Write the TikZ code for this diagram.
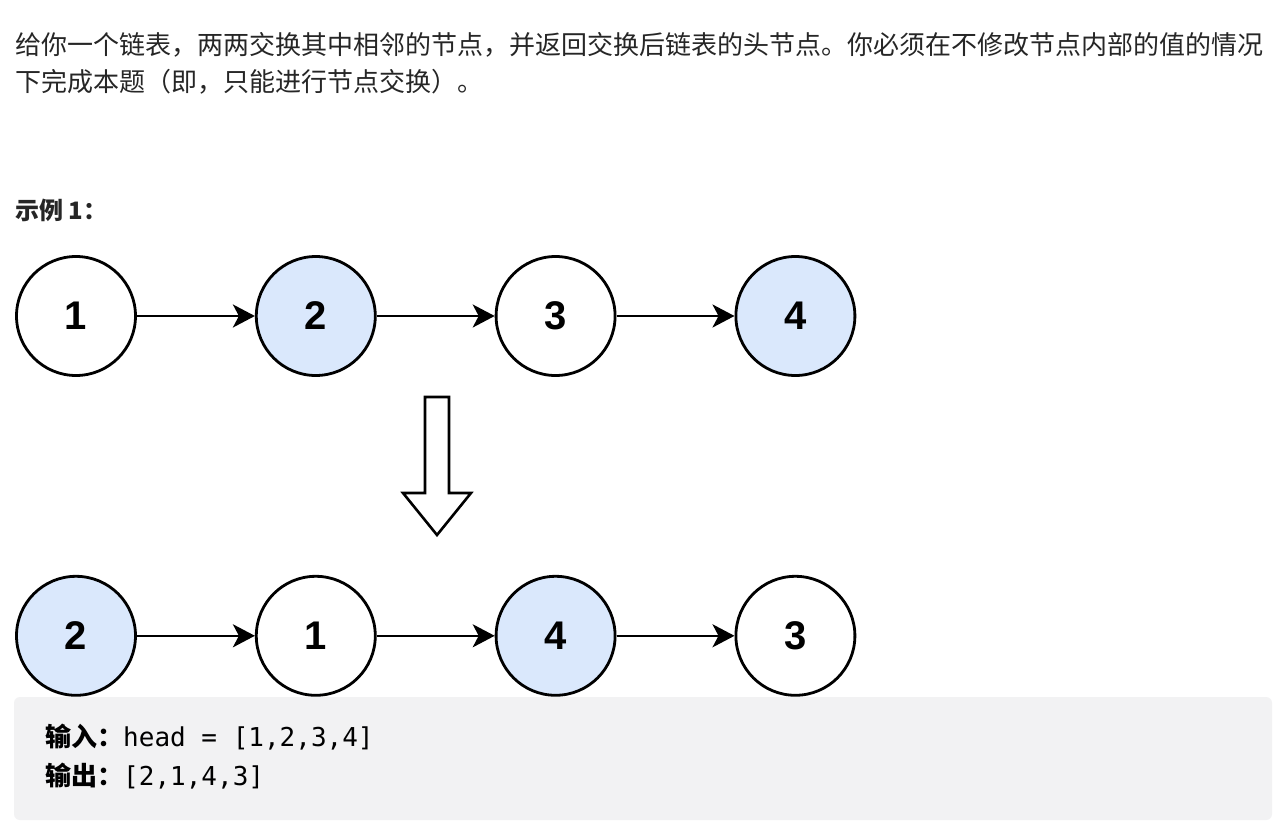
\documentclass[tikz,border=0pt]{standalone}
\usepackage{fontspec}
\setmainfont{Noto Sans CJK SC}
\newfontfamily\codefont{DejaVu Sans Mono}
\newfontfamily\numfont{Liberation Sans}
\usetikzlibrary{arrows.meta,positioning}
\definecolor{txt}{HTML}{262626}
\definecolor{swapfill}{HTML}{DAE8FC}
\definecolor{codebg}{HTML}{F2F2F3}

\begin{document}
\begin{tikzpicture}[
  x=1pt, y=-1pt,
  node distance=118pt and 118pt,
  >={Stealth[length=22pt,width=23pt,inset=6pt]},
  lnode/.style={circle,draw,line width=2.8pt,minimum size=119pt,inner sep=0pt,
    font=\numfont\bfseries\fontsize{40}{40}\selectfont},
  even/.style={lnode,fill=swapfill},
  link/.style={->,line width=2.4pt},
  para/.style={anchor=base west,inner sep=0pt,text=txt,font=\fontsize{26}{30}\selectfont}
]
\useasboundingbox[fill=white] (0,0) rectangle (1286,838);

% ---- Problem text ----
\node[para] (line1) at (15,54) {给你一个链表，两两交换其中相邻的节点，并返回交换后链表的头节点。你必须在不修改节点内部的值的情况};
\node[para] (line2) at (15,91) {下完成本题（即，只能进行节点交换）。};
\node[para, font=\bfseries\fontsize{24}{28}\selectfont] (example) at (15,219) {示例 1：};

% ---- Lists ----
\node[lnode] (a1) at (76,316) {1};
\node[even, right=of a1] (a2) {2};
\node[lnode, right=of a2] (a3) {3};
\node[even, right=of a3] (a4) {4};

\node[even, below=198pt of a1] (b1) {2};
\node[lnode, right=of b1] (b2) {1};
\node[even, right=of b2] (b3) {4};
\node[lnode, right=of b3] (b4) {3};

% ---- Arrows ----
\foreach \a/\b in {a1/a2,a2/a3,a3/a4,b1/b2,b2/b3,b3/b4} {
  \draw[link] (\a.east) -- (\b.west);
}

% ---- Swap arrow ----
\draw[line width=2.6pt, fill=white] (425,397) -- (449,397) -- (449,493) -- (471,493)
  -- (437,535) -- (403,493) -- (425,493) -- cycle;

% ---- Example box ----
\fill[codebg, rounded corners=6pt] (14,697) rectangle (1272,820);
\node[para, text=black] (input) at (45,746)
  {\textbf{输入：}{\codefont head = [1,2,3,4]}};
\node[para, text=black] (output) at (45,785)
  {\textbf{输出：}{\codefont [2,1,4,3]}};

\end{tikzpicture}
\end{document}
